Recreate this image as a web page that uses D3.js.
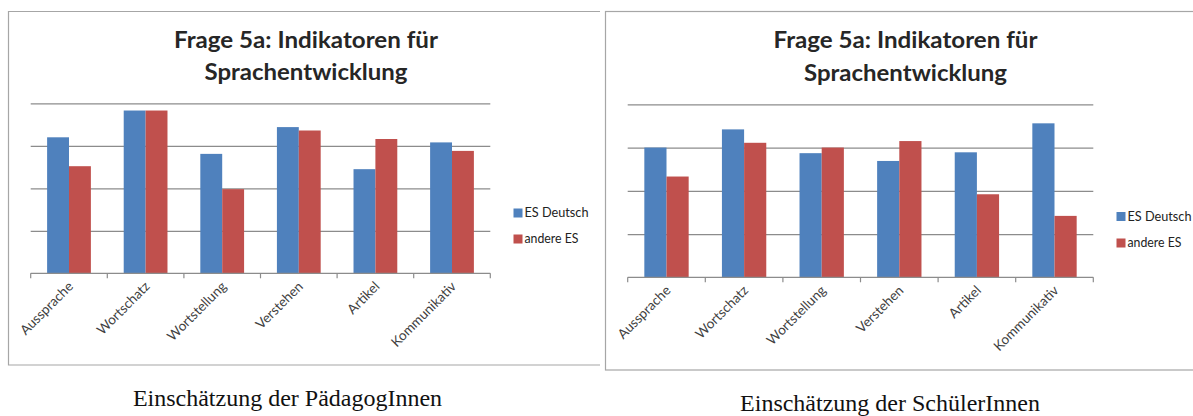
<!DOCTYPE html>
<html>
<head>
<meta charset="utf-8">
<script src="https://cdn.jsdelivr.net/npm/d3@7"></script>
<style>
  html, body { margin: 0; padding: 0; background: #fff; }
  svg { display: block; }
</style>
</head>
<body>
<svg id="root" width="1193" height="416"></svg>
<script>
// ---- data ----
const categories = ["Aussprache", "Wortschatz", "Wortstellung", "Verstehen", "Artikel", "Kommunikativ"];
const seriesNames = ["ES Deutsch", "andere ES"];
const paedagogenDeutsch = [3.20, 3.83, 2.81, 3.44, 2.45, 3.08];
const paedagogenAndere  = [2.52, 3.83, 1.98, 3.36, 3.16, 2.88];
const schuelerDeutsch   = [3.00, 3.42, 2.87, 2.69, 2.89, 3.56];
const schuelerAndere    = [2.33, 3.11, 3.00, 3.15, 1.92, 1.42];
const yTicks = [0, 1, 2, 3, 4];
const titleLines = ["Frage 5a: Indikatoren für", "Sprachentwicklung"];
const captions = ["Einschätzung der PädagogInnen", "Einschätzung der SchülerInnen"];
const colors = ["#4F81BD", "#C0504D"];

const svg = d3.select("#root");

function drawChart(cfg) {
  const g = svg.append("g");
  const series = [cfg.a, cfg.b];

  // frame
  if (cfg.openRight) {
    g.append("path")
      .attr("d", `M${cfg.box.x1},${cfg.box.y0}H${cfg.box.x0}V${cfg.box.y1}H${cfg.box.x1}`)
      .attr("fill", "none").attr("stroke", "#a6a6a6").attr("stroke-width", 1.2);
  } else {
    g.append("rect")
      .attr("x", cfg.box.x0).attr("y", cfg.box.y0)
      .attr("width", cfg.box.x1 - cfg.box.x0).attr("height", cfg.box.y1 - cfg.box.y0)
      .attr("fill", "none").attr("stroke", "#a6a6a6").attr("stroke-width", 1.2);
  }

  const x = d3.scaleBand().domain(categories).range([cfg.px0, cfg.px1]).paddingInner(0).paddingOuter(0);
  const xs = d3.scaleBand().domain(seriesNames).range([0, x.bandwidth()]).paddingInner(0).paddingOuter(0.75);
  const y = d3.scaleLinear().domain([0, 4]).range([cfg.yBase, cfg.yTop]);

  // gridlines
  const grid = g.append("g").attr("transform", `translate(${cfg.px0},0)`)
    .call(d3.axisLeft(y).tickValues(yTicks.slice(1)).tickSize(-(cfg.px1 - cfg.px0)).tickFormat(""));
  grid.select(".domain").remove();
  grid.selectAll(".tick line").attr("stroke", "#8c8c8c").attr("stroke-width", 1.2);

  // bars
  categories.forEach((c, i) => {
    seriesNames.forEach((s, j) => {
      const v = series[j][i];
      g.append("rect")
        .attr("x", x(c) + xs(s))
        .attr("y", y(v))
        .attr("width", xs.bandwidth())
        .attr("height", y(0) - y(v))
        .attr("fill", colors[j]);
    });
  });

  // x axis baseline + ticks at category boundaries
  const bounds = categories.map(c => x(c)).concat([cfg.px1]);
  const ax = g.append("g").attr("transform", `translate(0,${cfg.yBase})`);
  ax.append("line").attr("x1", cfg.px0).attr("x2", cfg.px1).attr("y1", 0).attr("y2", 0)
    .attr("stroke", "#8c8c8c").attr("stroke-width", 1.2);
  ax.selectAll("line.tk").data(bounds).enter().append("line").attr("class", "tk")
    .attr("x1", d => d).attr("x2", d => d).attr("y1", 0).attr("y2", 5)
    .attr("stroke", "#8c8c8c").attr("stroke-width", 1.2);
  ax.selectAll("text").data(categories).enter().append("text")
    .attr("transform", d => `translate(${x(d) + x.bandwidth() / 2 + 5},${14}) rotate(-45)`)
    .attr("text-anchor", "end")
    .attr("font-family", "Lato, 'Open Sans', sans-serif")
    .attr("font-size", 13.5)
    .attr("fill", "#404040")
    .text(d => d);

  // title
  titleLines.forEach((t, k) => {
    g.append("text")
      .attr("x", cfg.titleX).attr("y", cfg.titleY[k])
      .attr("text-anchor", "middle")
      .attr("font-family", "Lato, 'Open Sans', sans-serif")
      .attr("font-weight", "bold")
      .attr("font-size", 23)
      .attr("fill", "#262626")
      .attr("textLength", cfg.titleW[k]).attr("lengthAdjust", "spacingAndGlyphs")
      .text(t);
  });

  // legend
  seriesNames.forEach((s, j) => {
    g.append("rect")
      .attr("x", cfg.legX).attr("y", cfg.legY[j] - 8.5)
      .attr("width", 9).attr("height", 9)
      .attr("fill", colors[j]);
    g.append("text")
      .attr("x", cfg.legX + 11).attr("y", cfg.legY[j])
      .attr("font-family", "Lato, 'Open Sans', sans-serif")
      .attr("font-size", 13)
      .attr("fill", "#222")
      .attr("textLength", j === 0 ? 64 : 54).attr("lengthAdjust", "spacingAndGlyphs")
      .text(s);
  });

  // caption
  svg.append("text")
    .attr("x", cfg.capX).attr("y", cfg.capY)
    .attr("text-anchor", "middle")
    .attr("font-family", "'Liberation Serif', 'Times New Roman', serif")
    .attr("font-size", 24)
    .attr("fill", "#111")
    .text(cfg.caption);
}

drawChart({
  a: paedagogenDeutsch, b: paedagogenAndere,
  box: { x0: 8.5, y0: 11.5, x1: 600, y1: 365 }, openRight: true,
  px0: 30.7, px1: 490.3, yTop: 103.3, yBase: 273.3,
  titleX: 306, titleY: [47.5, 80], titleW: [264, 203],
  legX: 513.5, legY: [217, 243],
  capX: 287.5, capY: 406, caption: captions[0]
});

drawChart({
  a: schuelerDeutsch, b: schuelerAndere,
  box: { x0: 605.5, y0: 11.5, x1: 1200, y1: 370 }, openRight: false,
  px0: 627.7, px1: 1093.3, yTop: 104.3, yBase: 277.3,
  titleX: 905.5, titleY: [48, 80.5], titleW: [264, 203],
  legX: 1116.5, legY: [220.5, 247],
  capX: 890, capY: 411, caption: captions[1]
});
</script>
</body>
</html>
